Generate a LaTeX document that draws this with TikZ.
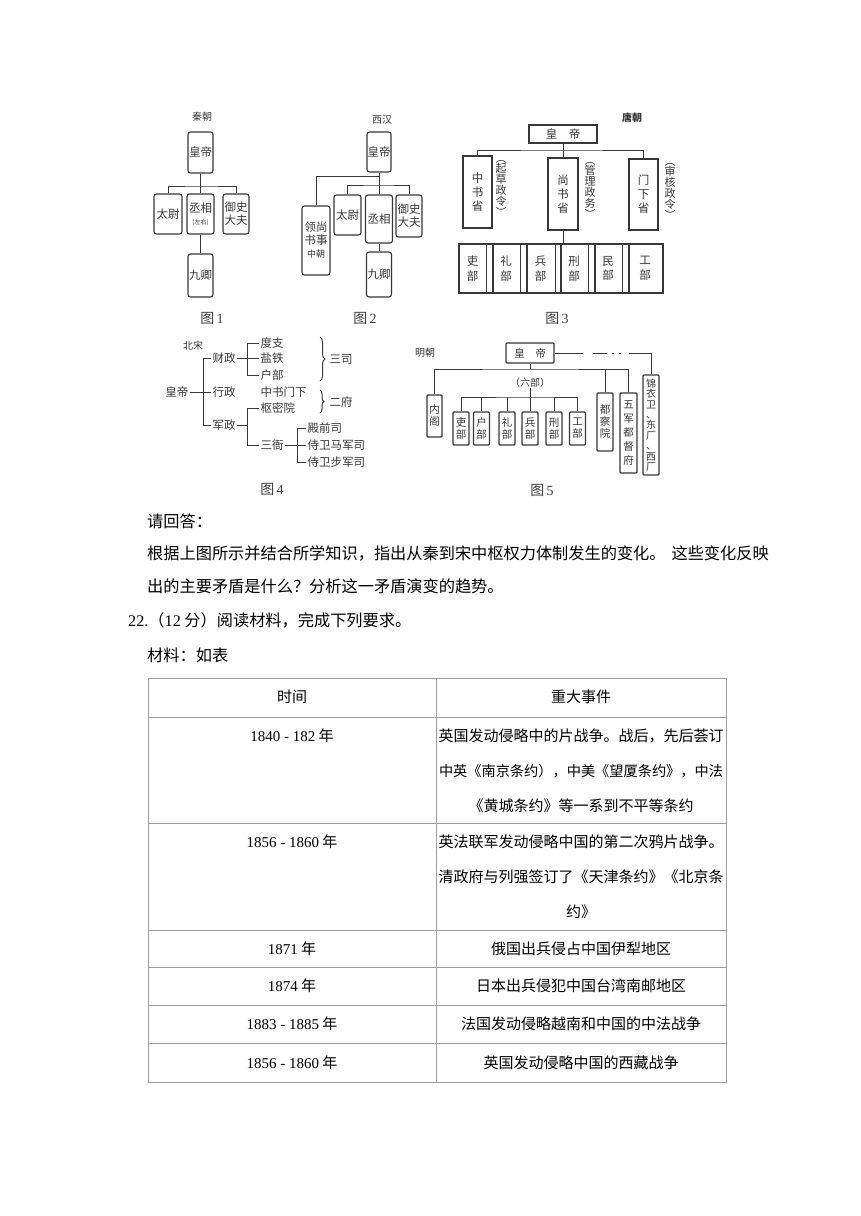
\documentclass[tikz,border=0pt]{standalone}
\usepackage{fontspec}
\setmainfont{Liberation Serif}
\newfontfamily\cjk{Noto Sans CJK SC}
\usetikzlibrary{decorations.pathreplacing}
\definecolor{dg}{gray}{0.22}
\definecolor{tl}{gray}{0.62}
\begin{document}
\begin{tikzpicture}[x=1pt,y=-1pt,
 box/.style={draw=dg,line width=1.1pt,rounded corners=2.5pt,inner sep=0pt,align=center,text=dg,font=\cjk\fontsize{11.5}{13}\selectfont},
 tbox/.style={draw=dg,line width=1.3pt,inner sep=0pt,align=center,text=dg,font=\cjk\fontsize{11.5}{14}\selectfont},
 mbox/.style={draw=dg,line width=1.3pt,rounded corners=1pt,inner sep=0pt,align=center,text=dg,font=\cjk\fontsize{10.5}{12}\selectfont},
 ln/.style={draw=dg,line width=1pt},
 lbl/.style={inner sep=0pt,text=dg,font=\cjk\fontsize{10}{11}\selectfont},
 tx/.style={inner sep=1.5pt,text=dg,font=\cjk\fontsize{11.5}{12}\selectfont},
 vtx/.style={inner sep=0pt,align=center,text=dg,font=\cjk\fontsize{11}{10.8}\selectfont},
 celltext/.style={inner sep=0pt,align=center,text=dg,font=\cjk\fontsize{11.5}{14.5}\selectfont},
 figcap/.style={inner sep=0pt,font=\cjk\fontsize{14}{15}\selectfont,text=black!75},
 body/.style={inner sep=0pt,anchor=west,font=\cjk\fontsize{16.2}{18}\selectfont},
 cell/.style={inner sep=0pt,font=\cjk\fontsize{15}{16}\selectfont},
 tline/.style={draw=tl,line width=1pt}
]
\useasboundingbox[fill=white] (0,0) rectangle (860,1216);

% ---------- Figure 1 (Qin) ----------
\node[lbl] (qlab) at (202,117) {秦朝};
\node[box,minimum width=25,minimum height=41] (q0) at (200.5,152.5) {皇帝};
\node[box,minimum width=28,minimum height=40] (q1) at (168,214) {太尉};
\node[box,minimum width=27,minimum height=40] (q2) at (200.5,214) {丞相\\[-1pt]{\fontsize{6}{7}\selectfont (左右)}};
\node[box,minimum width=26,minimum height=40] (q3) at (236,214) {御史\\大夫};
\node[box,minimum width=25,minimum height=43] (q4) at (200.5,275.5) {九卿};
\coordinate (qj) at (200.5,186);
\draw[ln] (q0.south) -- (q2.north);
\draw[ln] (q1.north) |- (qj) -| (q3.north);
\draw[ln] (q2.south) -- (q4.north);
\node[figcap] (c1) at (212,318) {图\,{\rmfamily 1}};

% ---------- Figure 2 (Western Han) ----------
\node[lbl] (hlab) at (382,120) {西汉};
\node[box,minimum width=24,minimum height=40] (h0) at (379,152) {皇帝};
\node[box,minimum width=28,minimum height=69] (h1) at (316,240.5) {领尚\\书事\\{\fontsize{9}{10}\selectfont 中朝}};
\node[box,minimum width=27,minimum height=40] (h2) at (347.5,215) {太尉};
\node[box,minimum width=27,minimum height=48] (h3) at (379,219) {丞相};
\node[box,minimum width=26,minimum height=42] (h4) at (409,216) {御史\\大夫};
\node[box,minimum width=25,minimum height=45] (h5) at (379,274.5) {九卿};
\coordinate (hj1) at (379,176);
\coordinate (hj2) at (379,185);
\draw[ln] (h0.south) -- (h3.north);
\draw[ln] (hj1) -| (h1.north);
\draw[ln] (h2.north) |- (hj2) -| (h4.north);
\draw[ln] (h3.south) -- (h5.north);
\node[figcap] (c2) at (365,318) {图\,{\rmfamily 2}};

% ---------- Figure 3 (Tang) ----------
\node[lbl,font=\cjk\bfseries\fontsize{10}{11}\selectfont] (tlab) at (632,118) {唐朝};
\node[tbox,minimum width=68,minimum height=18] (t0) at (563,134) {皇\quad 帝};
\node[tbox,minimum width=29,minimum height=72] (t1) at (477.5,192) {中\\书\\省};
\node[tbox,minimum width=30,minimum height=72] (t2) at (563,194) {尚\\书\\省};
\node[tbox,minimum width=29,minimum height=71] (t3) at (643.5,194.5) {门\\下\\省};
\node[vtx] (ta1) at (501,188) {︵\\起\\草\\政\\令\\︶};
\node[vtx] (ta2) at (590,190) {︵\\管\\理\\政\\务\\︶};
\node[vtx] (ta3) at (670,191) {︵\\审\\核\\政\\令\\︶};
\coordinate (tj) at (563,150);
\draw[ln] (t0.south) -- (t2.north);
\draw[ln] (t1.north) |- (tj) -| (t3.north);
\coordinate (trow) at (563,244);
\draw[ln] (t2.south) -- (trow);
\draw[draw=dg,line width=1.5pt] (459,244) rectangle (663,293);
\foreach \xx in {493,527,561,595,629} {\draw[draw=dg,line width=1.3pt] (\xx,244) -- (\xx,293);}
\foreach \xx in {486,520,555,588,622} {\draw[draw=dg,line width=0.6pt] (\xx,244) -- (\xx,293);}
\node[celltext] (t4) at (472.5,268.5) {吏\\部};
\node[celltext] (t5) at (506,268.5) {礼\\部};
\node[celltext] (t6) at (540.5,268.5) {兵\\部};
\node[celltext] (t7) at (574,268.5) {刑\\部};
\node[celltext] (t8) at (608,268.5) {民\\部};
\node[celltext] (t9) at (645,268.5) {工\\部};
\node[figcap] (c3) at (557,318) {图\,{\rmfamily 3}};

% ---------- Figure 4 (Northern Song) ----------
\node[lbl] (slab) at (193,346) {北宋};
\node[tx,anchor=east] (s0) at (190,392) {皇帝};
\node[tx,anchor=west] (s1) at (211,358.5) {财政};
\node[tx,anchor=west] (s2) at (211,392) {行政};
\node[tx,anchor=west] (s3) at (211,425) {军政};
\node[tx,anchor=west] (s4) at (259,343) {度支};
\node[tx,anchor=west] (s5) at (259,358.5) {盐铁};
\node[tx,anchor=west] (s6) at (259,375) {户部};
\node[tx,anchor=west] (s7) at (259,392) {中书门下};
\node[tx,anchor=west] (s8) at (259,408) {枢密院};
\node[tx,anchor=west] (s9) at (259,445) {三衙};
\node[tx,anchor=west] (s10) at (306,428) {殿前司};
\node[tx,anchor=west] (s11) at (306,445) {侍卫马军司};
\node[tx,anchor=west] (s12) at (306,462.5) {侍卫步军司};
\node[tx] (s13) at (341,359) {三司};
\node[tx] (s14) at (341,402) {二府};
\coordinate (b1) at (203,392);
\draw[ln] (s0.east) -- (b1);
\draw[ln] (s1.west) -| (b1);
\draw[ln] (s3.west) -| (b1);
\draw[ln] (s2.west) -- (b1);
\coordinate (b2) at (247,358.5);
\draw[ln] (s1.east) -- (b2);
\draw[ln] (s4.west) -| (b2);
\draw[ln] (s6.west) -| (b2);
\draw[ln] (s5.west) -- (b2);
\coordinate (b3) at (247,425);
\draw[ln] (s3.east) -- (b3);
\draw[ln] (s8.west) -| (b3);
\draw[ln] (s9.west) -| (b3);
\coordinate (b4) at (297,445);
\draw[ln] (s9.east) -- (b4);
\draw[ln] (s10.west) -| (b4);
\draw[ln] (s12.west) -| (b4);
\draw[ln] (s11.west) -- (b4);
\draw[ln,decorate,decoration={brace,amplitude=5pt}] (320,337) -- (320,381);
\draw[ln,decorate,decoration={brace,amplitude=4pt}] (320,390) -- (320,413);
\node[figcap] (c4) at (272,489) {图\,{\rmfamily 4}};

% ---------- Figure 5 (Ming) ----------
\node[lbl] (mlab) at (425,353) {明朝};
\node[mbox,minimum width=48,minimum height=20] (m0) at (530,353) {皇\quad 帝};
\node[mbox,minimum width=15,minimum height=42] (m1) at (434.5,416) {内\\阁};
\node[mbox,minimum width=16,minimum height=33] (m2) at (461,428.5) {吏\\部};
\node[mbox,minimum width=16,minimum height=33] (m3) at (481.5,428.5) {户\\部};
\node[mbox,minimum width=16,minimum height=33] (m4) at (507,428.5) {礼\\部};
\node[mbox,minimum width=16,minimum height=33] (m5) at (530,428.5) {兵\\部};
\node[mbox,minimum width=16,minimum height=33] (m6) at (554,428.5) {刑\\部};
\node[mbox,minimum width=16,minimum height=33] (m7) at (577.5,428.5) {工\\部};
\node[lbl] (m8) at (530,383) {（六部）};
\node[mbox,minimum width=16,minimum height=58] (m9) at (605,422) {都\\察\\院};
\node[mbox,minimum width=17,minimum height=80,font=\cjk\fontsize{10.5}{14}\selectfont] (m10) at (628.5,433) {五\\军\\都\\督\\府};
\node[mbox,minimum width=16,minimum height=100,font=\cjk\fontsize{10}{10.4}\selectfont] (m11) at (651,425) {锦\\衣\\卫\\、\\东\\厂\\、\\西\\厂};
\coordinate (mj1) at (530,369);
\coordinate (mj2) at (530,397);
\draw[ln] (m0.south) -- (mj1);
\draw[ln] (m1.north) |- (mj1) -| (m10.north);
\draw[ln] (m9.north) -- (m9.north |- mj1);
\draw[ln] (m8.south) -- (mj2);
\draw[ln] (m2.north) |- (mj2) -| (m7.north);
\draw[ln] (m3.north) -- (m3.north |- mj2);
\draw[ln] (m4.north) -- (m4.north |- mj2);
\draw[ln] (m5.north) -- (m5.north |- mj2);
\draw[ln] (m6.north) -- (m6.north |- mj2);
\coordinate (md1) at (583,353);
\coordinate (md2) at (593,353);
\coordinate (md3) at (631,353);
\coordinate (md4) at (651,353);
\draw[ln] (m0.east) -- (md1);
\draw[ln,dash pattern=on 14pt off 5pt on 2pt off 5pt on 2pt off 8pt on 2pt] (md2) -- (md3);
\draw[ln] (md3) -- (md4) -- (m11.north);
\node[figcap] (c5) at (542,490) {图\,{\rmfamily 5}};

% ---------- Body text ----------
\node[body] (p1) at (147,521) {请回答：};
\node[body] (p2) at (147,553) {根据上图所示并结合所学知识，指出从秦到宋中枢权力体制发生的变化。\hspace{6pt}这些变化反映};
\node[body] (p3) at (147,586) {出的主要矛盾是什么？分析这一矛盾演变的趋势。};
\node[body] (p4) at (128,620) {{\rmfamily 22.}（{\rmfamily 12} 分）阅读材料，完成下列要求。};
\node[body] (p5) at (147,655) {材料：如表};

% ---------- Table ----------
\draw[tline] (148,678) rectangle (726,1082);
\draw[tline] (436,678) -- (436,1082);
\foreach \yy in {717,823,930,967,1005,1043} {\draw[tline] (148,\yy) -- (726,\yy);}
\node[cell] (th1) at (292,697) {时间};
\node[cell] (th2) at (581,697) {重大事件};
\node[cell] (r1a) at (292,736) {{\rmfamily 1840 - 182} 年};
\node[cell] (r1b) at (581,736) {英国发动侵略中的片战争。战后，先后荟订};
\node[cell,font=\cjk\fontsize{14.2}{16}\selectfont] (r1c) at (581,771) {中英《南京条约），中美《望厦条约》，中法};
\node[cell] (r1d) at (581,806) {《黄城条约》等一系到不平等条约};
\node[cell] (r2a) at (292,842) {{\rmfamily 1856 - 1860} 年};
\node[cell] (r2b) at (581,842) {英法联军发动侵略中国的第二次鸦片战争。};
\node[cell] (r2c) at (581,877) {清政府与列强签订了《天津条约》《北京条};
\node[cell] (r2d) at (581,912) {约》};
\node[cell] (r3a) at (292,948.5) {{\rmfamily 1871} 年};
\node[cell] (r3b) at (581,948.5) {俄国出兵侵占中国伊犁地区};
\node[cell] (r4a) at (292,986) {{\rmfamily 1874} 年};
\node[cell] (r4b) at (581,986) {日本出兵侵犯中国台湾南邮地区};
\node[cell] (r5a) at (292,1024) {{\rmfamily 1883 - 1885} 年};
\node[cell] (r5b) at (581,1024) {法国发动侵略越南和中国的中法战争};
\node[cell] (r6a) at (292,1062.5) {{\rmfamily 1856 - 1860} 年};
\node[cell] (r6b) at (581,1062.5) {英国发动侵略中国的西藏战争};
\end{tikzpicture}
\end{document}
